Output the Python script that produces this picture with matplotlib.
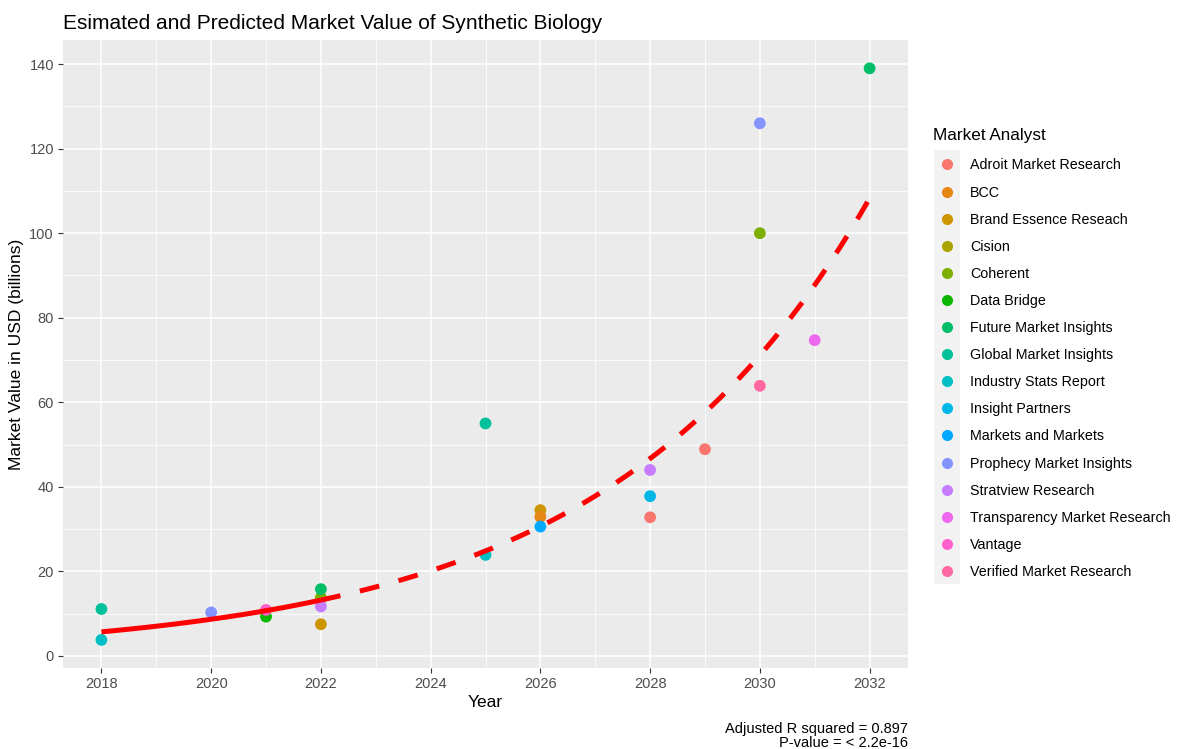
import numpy as np
import matplotlib
matplotlib.use("Agg")
import matplotlib.pyplot as plt
from matplotlib.lines import Line2D
from matplotlib.patches import Rectangle

plt.rcParams['font.family'] = ['Liberation Sans', 'DejaVu Sans']

# ---- data ----
analysts = ["Adroit Market Research", "BCC", "Brand Essence Reseach", "Cision", "Coherent",
            "Data Bridge", "Future Market Insights", "Global Market Insights",
            "Industry Stats Report", "Insight Partners", "Markets and Markets",
            "Prophecy Market Insights", "Stratview Research", "Transparency Market Research",
            "Vantage", "Verified Market Research"]
colors = ["#F8766D", "#E68613", "#CD9600", "#ABA300", "#7CAE00", "#0CB702", "#00BE67",
          "#00C19A", "#00BFC4", "#00B8E7", "#00A9FF", "#8494FF", "#C77CFF", "#ED68ED",
          "#FF61CC", "#FF68A1"]

point_analyst = ["Global Market Insights", "Industry Stats Report", "Prophecy Market Insights",
                 "Data Bridge", "Vantage", "Cision", "Coherent", "Future Market Insights",
                 "Stratview Research", "Brand Essence Reseach", "Global Market Insights",
                 "Industry Stats Report", "Brand Essence Reseach", "BCC", "Markets and Markets",
                 "Stratview Research", "Insight Partners", "Adroit Market Research",
                 "Adroit Market Research", "Prophecy Market Insights", "Coherent",
                 "Verified Market Research", "Transparency Market Research",
                 "Future Market Insights"]
point_year = [2018, 2018, 2020, 2021, 2021, 2022, 2022, 2022, 2022, 2022, 2025, 2025,
              2026, 2026, 2026, 2028, 2028, 2028, 2029, 2030, 2030, 2030, 2031, 2032]
point_value = [11.1, 3.8, 10.3, 9.3, 10.9, 13.5, 13.8, 15.8, 11.7, 7.5, 55.0, 23.9,
               34.5, 32.9, 30.6, 44.0, 37.8, 32.8, 48.9, 126.0, 100.0, 63.9, 74.7, 139.0]

# exponential trend model: value = base * exp(growth * (year - base_year))
fit_base_year = 2018
fit_base_value = 5.7
fit_growth = 0.2103
observed_years = [2018, 2022]
predicted_years = [2022, 2032]

x_ticks = [2018, 2020, 2022, 2024, 2026, 2028, 2030, 2032]
y_ticks = [0, 20, 40, 60, 80, 100, 120, 140]

# ---- figure ----
fig = plt.figure(figsize=(11.78, 7.49), dpi=100)
ax = fig.add_axes([63/1178, 1-668/749, (908-63)/1178, (668-40)/749])
ax.set_facecolor("#EBEBEB")
for s in ax.spines.values():
    s.set_visible(False)

ax.set_xlim(2017.3, 2032.7)
ax.set_ylim(-2.85, 145.7)
ax.set_xticks(x_ticks)
ax.set_yticks(y_ticks)
ax.set_xticks(np.arange(2019, 2032, 2), minor=True)
ax.set_yticks(np.arange(10, 141, 20), minor=True)
ax.grid(True, which='major', color='white', linewidth=1.1)
ax.grid(True, which='minor', color='white', linewidth=0.55)
ax.set_axisbelow(True)
ax.tick_params(which='major', length=3.5, width=0.8, color='#333333', labelcolor='#4D4D4D',
               labelsize=10.5, pad=3)
ax.tick_params(which='minor', length=0)


def trend(x):
    return fit_base_value * np.exp(fit_growth * (x - fit_base_year))


xs1 = np.linspace(observed_years[0], observed_years[1], 60)
xs2 = np.linspace(predicted_years[0], predicted_years[1], 300)
ax.plot(xs1, trend(xs1), color='red', lw=3.6, solid_capstyle='butt', zorder=3)
ax.plot(xs2, trend(xs2), color='red', lw=3.6, dashes=(4, 4), dash_capstyle='butt', zorder=3)

cmap = dict(zip(analysts, colors))
for an, yr, v in zip(point_analyst, point_year, point_value):
    ax.scatter(yr, v, s=72, color=cmap[an], edgecolors='none', zorder=2)

ax.set_title("Esimated and Predicted Market Value of Synthetic Biology", loc='left',
             fontsize=15, color='black', pad=8)
ax.set_xlabel("Year", fontsize=12.5, labelpad=3)
ax.set_ylabel("Market Value in USD (billions)", fontsize=12.5, labelpad=4)

handles = [Line2D([], [], marker='o', linestyle='none', markersize=8,
                  markerfacecolor=c, markeredgecolor='none') for c in colors]
fig.patches.append(Rectangle((934/1178, 1-584/749), 26/1178, 434/749,
                             transform=fig.transFigure, facecolor='#F2F2F2',
                             edgecolor='none', zorder=0))
leg = fig.legend(handles, analysts, loc='upper left', bbox_to_anchor=(927/1178, 1-122/749),
                 frameon=False, fontsize=10.3, title="Market Analyst", title_fontsize=12.3,
                 labelspacing=0.916, handletextpad=0.61, handlelength=2.0, borderaxespad=0)
leg._legend_box.align = "left"
leg._legend_box.sep = 11.3

fig.text(908/1178, 1-733/749, "Adjusted R squared = 0.897", ha='right', fontsize=10.5)
fig.text(908/1178, 1-747/749, "P-value = < 2.2e-16", ha='right', fontsize=10.5)

fig.savefig("out.png", dpi=100)
